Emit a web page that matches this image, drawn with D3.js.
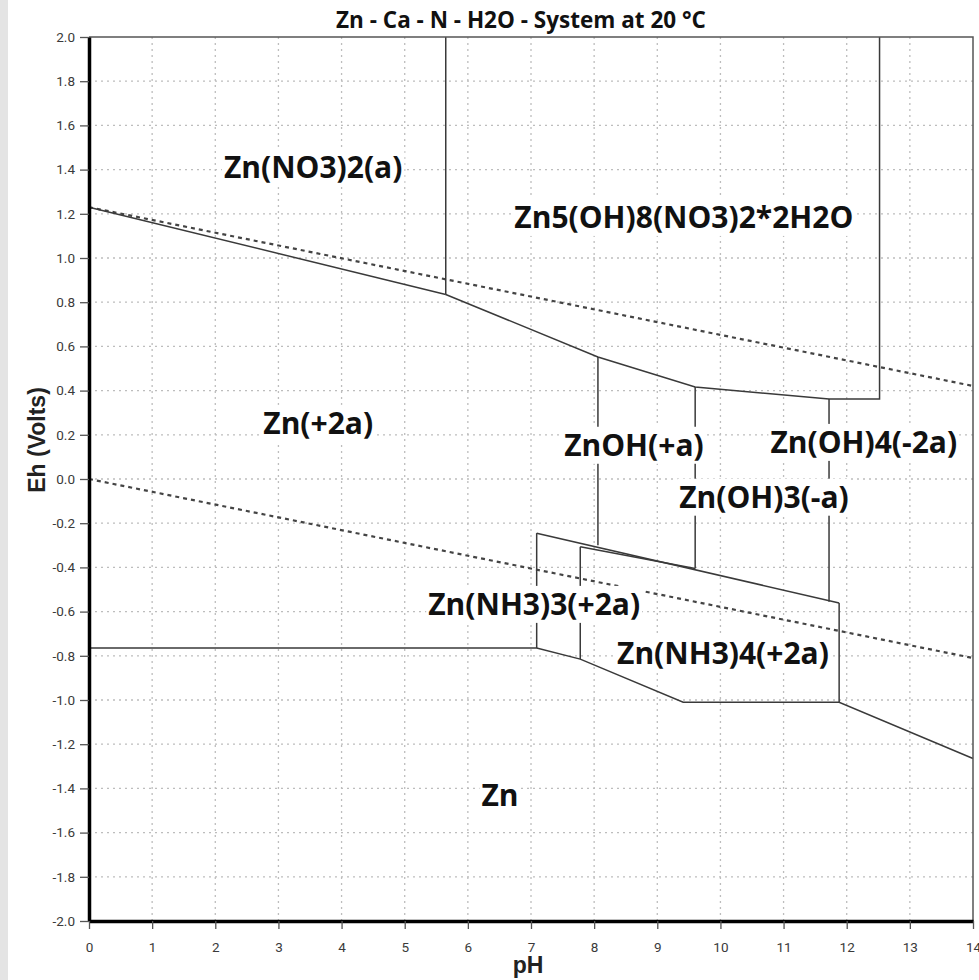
<!DOCTYPE html>
<html>
<head>
<meta charset="utf-8">
<script src="https://cdn.jsdelivr.net/npm/d3@7"></script>
<style>
    html, body { margin: 0; padding: 0; background: #fff; }
    svg { display: block; }
</style>
</head>
<body>
<svg id="chart"></svg>
<script>
// Zn - Ca - N - H2O Pourbaix diagram, 20 °C

const titleText = "Zn - Ca - N - H2O - System at 20 °C";

const phTicks = [0, 1, 2, 3, 4, 5, 6, 7, 8, 9, 10, 11, 12, 13, 14];
const ehTicks = [2.0, 1.8, 1.6, 1.4, 1.2, 1.0, 0.8, 0.6, 0.4, 0.2, 0.0,
                 -0.2, -0.4, -0.6, -0.8, -1.0, -1.2, -1.4, -1.6, -1.8, -2.0];
const ehTickLabels = ["2.0", "1.8", "1.6", "1.4", "1.2", "1.0", "0.8", "0.6", "0.4", "0.2", "0.0",
                      "-0.2", "-0.4", "-0.6", "-0.8", "-1.0", "-1.2", "-1.4", "-1.6", "-1.8", "-2.0"];

// water stability limits (dotted), [pH, Eh]
const upperWater = [[0, 1.23], [14, 0.421]];
const lowerWater = [[0, 0.0], [14, -0.81]];

// phase boundaries (solid), [pH, Eh]
const nitrateBoundary = [[0, 1.23], [5.65, 0.835]];
const nitrateVertical = [[5.65, 2.0], [5.65, 0.835]];
const basicNitrateBoundary = [[5.65, 0.835], [8.06, 0.552], [9.6, 0.416], [11.72, 0.362], [12.52, 0.362], [12.52, 2.0]];
const znohLeft = [[8.06, 0.552], [8.06, -0.30]];
const znohRight = [[9.6, 0.416], [9.6, -0.405]];
const zincateLeft = [[11.72, 0.362], [11.72, -0.555]];
const ammineTop = [[7.09, -0.245], [11.88, -0.561]];
const ammine4Top = [[7.78, -0.307], [9.6, -0.405]];
const ammine3Left = [[7.09, -0.245], [7.09, -0.765]];
const ammine4Left = [[7.78, -0.307], [7.78, -0.815]];
const ammine4Right = [[11.88, -0.561], [11.88, -1.01]];
const zincBoundary = [[0, -0.765], [7.09, -0.765], [7.78, -0.815], [9.41, -1.01], [11.88, -1.01], [14, -1.265]];

const boundaries = [nitrateBoundary, nitrateVertical, basicNitrateBoundary, znohLeft, znohRight,
                    zincateLeft, ammineTop, ammine4Top, ammine3Left, ammine4Left, ammine4Right, zincBoundary];

// field labels: text, pH, Eh (centre)
const labelTexts = ["Zn(NO3)2(a)", "Zn5(OH)8(NO3)2*2H2O", "Zn(+2a)", "ZnOH(+a)", "Zn(OH)4(-2a)",
                    "Zn(OH)3(-a)", "Zn(NH3)3(+2a)", "Zn(NH3)4(+2a)", "Zn"];
const labelPH = [3.55, 9.42, 3.63, 8.63, 12.27, 10.69, 7.05, 10.04, 6.51];
const labelEh = [1.41, 1.185, 0.253, 0.154, 0.167, -0.081, -0.566, -0.787, -1.43];

const W = 979, H = 980;
const margin = { top: 37, right: 6, bottom: 59, left: 89 };

const svg = d3.select("#chart").attr("width", W).attr("height", H);

// faint grey edge of the scanned picture
svg.append("rect").attr("x", 0).attr("y", 0).attr("width", 8).attr("height", H).attr("fill", "#e4e4e4");

const x = d3.scaleLinear().domain([0, 14]).range([margin.left, W - margin.right]);
const y = d3.scaleLinear().domain([-2, 2]).range([H - margin.bottom, margin.top]);

// grid
const grid = svg.append("g").attr("class", "grid")
    .attr("stroke", "#bdbdbd").attr("stroke-width", 1.3).attr("stroke-dasharray", "2,4");
grid.selectAll("line.v").data(phTicks.slice(1, -1)).join("line")
    .attr("class", "v")
    .attr("x1", d => x(d)).attr("x2", d => x(d))
    .attr("y1", y(2)).attr("y2", y(-2));
grid.selectAll("line.h").data(ehTicks.slice(1, -1)).join("line")
    .attr("class", "h")
    .attr("x1", x(0)).attr("x2", x(14))
    .attr("y1", d => y(d)).attr("y2", d => y(d));

const line = d3.line().x(d => x(d[0])).y(d => y(d[1]));

// water lines
svg.append("g").selectAll("path").data([upperWater, lowerWater]).join("path")
    .attr("d", line)
    .attr("fill", "none")
    .attr("stroke", "#444")
    .attr("stroke-width", 2.2)
    .attr("stroke-dasharray", "4,4");

// boundaries
svg.append("g").selectAll("path").data(boundaries).join("path")
    .attr("d", line)
    .attr("fill", "none")
    .attr("stroke", "#3a3a3a")
    .attr("stroke-width", 1.5)
    .attr("stroke-linejoin", "miter");

// labels with white backing
const labelG = svg.append("g").attr("class", "labels");
labelTexts.forEach((t, i) => {
    const g = labelG.append("g");
    const txt = g.append("text")
        .attr("x", x(labelPH[i]))
        .attr("y", y(labelEh[i]))
        .attr("dy", "0.36em")
        .attr("text-anchor", "middle")
        .style("font-family", "'Open Sans', sans-serif")
        .style("font-weight", 700)
        .style("font-size", "30px")
        .attr("fill", "#111")
        .text(t);
    const bb = txt.node().getBBox();
    g.insert("rect", "text")
        .attr("x", bb.x - 2).attr("y", bb.y + 3)
        .attr("width", bb.width + 4).attr("height", bb.height - 4)
        .attr("fill", "#fff");
});

// frame (top / right)
svg.append("path")
    .attr("d", `M${x(0)},${y(2)}H${x(14)}V${y(-2)}`)
    .attr("fill", "none").attr("stroke", "#555").attr("stroke-width", 1.5);

// axes
const yAxis = svg.append("g")
    .attr("transform", `translate(${x(0)},0)`)
    .call(d3.axisLeft(y).tickValues(ehTicks).tickFormat((d, i) => ehTickLabels[i])
        .tickSize(9).tickSizeOuter(0).tickPadding(5));
const xAxis = svg.append("g")
    .attr("transform", `translate(0,${y(-2)})`)
    .call(d3.axisBottom(x).tickValues(phTicks).tickFormat(d3.format("d"))
        .tickSize(8).tickSizeOuter(0).tickPadding(13));

[yAxis, xAxis].forEach(ax => {
    ax.select(".domain").attr("stroke", "#000").attr("stroke-width", 3.5);
    ax.selectAll(".tick line").attr("stroke", "#555").attr("stroke-width", 1.3);
    ax.selectAll(".tick text")
        .style("font-family", "Roboto, sans-serif")
        .style("font-size", "13.5px")
        .attr("fill", "#3a3a3a");
});

// title
svg.append("text")
    .attr("x", 521).attr("y", 28)
    .attr("text-anchor", "middle")
    .style("font-family", "'Open Sans', sans-serif")
    .style("font-weight", 700)
    .style("font-size", "22.5px")
    .attr("fill", "#111")
    .text(titleText);

// axis titles
svg.append("text")
    .attr("x", (x(0) + x(14)) / 2 - 3).attr("y", 973)
    .attr("text-anchor", "middle")
    .style("font-family", "'Liberation Sans', Arial, sans-serif")
    .style("font-weight", 700)
    .style("font-size", "23px")
    .attr("fill", "#222")
    .text("pH");

svg.append("text")
    .attr("transform", "translate(45,440) rotate(-90)")
    .attr("text-anchor", "middle")
    .style("font-family", "'Liberation Sans', Arial, sans-serif")
    .style("font-weight", 700)
    .style("font-size", "23px")
    .attr("fill", "#222")
    .text("Eh (Volts)");
</script>
</body>
</html>
